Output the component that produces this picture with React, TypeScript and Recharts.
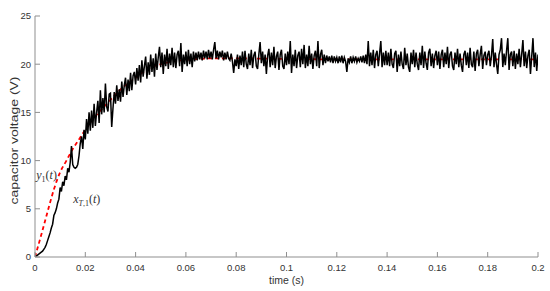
import React from "react";
import { LineChart, Line, XAxis, YAxis, ReferenceDot, Label } from "recharts";

// sample period of the measured (black) trace, seconds
const STEP = 0.0005;

// measured capacitor voltage x_T,1(t), one value every 0.5 ms from t = 0 to 0.2 s
const measuredV: number[] = [
  // 0.000 - 0.0095
  0, 0.1, 0.2, 0.3, 0.4, 0.5, 0.6, 0.8, 1.0, 1.3, 1.7, 2.1, 2.5, 3.0, 3.4, 4.3, 4.6, 5.0, 5.6, 6.0,
  // 0.010 - 0.0195
  7.2, 6.8, 7.8, 7.4, 8.4, 8.0, 9.2, 8.8, 9.8, 11.5, 9.6, 9.3, 9.2, 9.3, 9.6, 10.5, 11.8, 12.5, 11.2, 13.2,
  // 0.020 - 0.0295
  12.2, 14.3, 12.8, 15.0, 13.1, 15.2, 13.4, 15.9, 13.6, 15.0, 16.2, 13.9, 17.3, 14.8, 16.5, 15.0, 18.0, 15.6, 15.1, 16.9,
  // 0.030 - 0.0395
  17.0, 13.5, 15.4, 17.1, 15.9, 17.8, 16.2, 17.4, 16.1, 18.2, 16.6, 17.8, 18.6, 16.8, 18.4, 17.2, 19.1, 17.3, 18.8, 19.2,
  // 0.040 - 0.0495
  17.9, 19.6, 18.3, 19.9, 18.1, 20.4, 18.7, 19.8, 20.8, 18.5, 20.2, 18.9, 21.0, 19.2, 20.6, 18.7, 21.1, 19.4, 20.7, 21.8,
  // 0.050 - 0.0595
  19.7, 21.2, 19.0, 21.0, 19.8, 21.6, 19.5, 21.1, 19.9, 21.7, 19.7, 21.2, 19.6, 21.0, 21.4, 19.8, 22.2, 19.2, 21.0, 20.0,
  // 0.060 - 0.0695
  21.3, 19.8, 21.5, 20.0, 21.1, 19.7, 21.3, 20.3, 21.2, 20.4, 21.3, 20.5, 21.2, 20.4, 21.4, 20.6, 21.3, 20.5, 21.5, 20.6,
  // 0.070 - 0.0795
  21.3, 20.5, 21.5, 22.3, 20.6, 21.4, 20.5, 21.3, 20.7, 21.4, 20.4, 21.2, 20.5, 21.3, 20.6, 20.4, 21.1, 20.3, 19.1, 20.5,
  // 0.080 - 0.0895
  19.8, 21.0, 19.5, 20.9, 19.9, 21.3, 19.7, 21.4, 20.0, 19.5, 21.1, 19.9, 21.5, 19.6, 20.9, 21.3, 19.8, 19.5, 21.0, 22.3,
  // 0.090 - 0.0995
  20.1, 21.3, 19.8, 21.0, 19.0, 20.9, 21.6, 19.7, 21.2, 19.9, 21.8, 19.6, 20.8, 21.3, 19.4, 21.0, 21.5, 19.8, 19.5, 21.1,
  // 0.100 - 0.1095
  19.9, 21.3, 20.0, 22.4, 19.1, 21.0, 19.8, 21.5, 19.6, 20.9, 21.3, 19.7, 21.6, 20.0, 22.0, 19.6, 21.0, 19.8, 21.9, 20.0,
  // 0.110 - 0.1195
  21.1, 19.5, 20.9, 21.4, 19.8, 22.4, 19.6, 21.0, 21.5, 19.9, 21.0, 20.1, 20.9, 20.3, 20.8, 20.2, 20.9, 20.1, 20.8, 20.3,
  // 0.120 - 0.1295
  20.7, 20.1, 20.8, 20.2, 20.9, 20.1, 20.7, 20.3, 19.2, 20.6, 20.2, 20.8, 20.1, 20.7, 20.3, 20.8, 20.2, 20.6, 20.3, 20.8,
  // 0.130 - 0.1395
  20.2, 20.9, 20.1, 21.0, 20.0, 22.4, 19.8, 21.2, 19.9, 21.5, 19.6, 21.0, 21.4, 19.8, 21.1, 22.4, 19.7, 21.2, 19.9, 21.4,
  // 0.140 - 0.1495
  19.9, 21.2, 19.8, 21.6, 20.0, 19.6, 21.1, 21.4, 19.2, 21.0, 19.8, 21.3, 20.0, 19.5, 21.7, 19.9, 21.1, 19.7, 19.2, 21.2,
  // 0.150 - 0.1595
  20.0, 21.5, 19.7, 21.2, 20.0, 19.4, 21.2, 19.9, 21.9, 19.6, 21.3, 20.1, 19.4, 21.2, 21.6, 19.8, 21.1, 19.6, 20.9, 21.4,
  // 0.160 - 0.1695
  19.9, 21.3, 19.5, 21.0, 21.5, 19.7, 21.2, 20.0, 21.8, 19.6, 21.0, 21.3, 19.8, 19.4, 21.2, 20.0, 21.6, 19.7, 21.1, 19.9,
  // 0.170 - 0.1795
  19.2, 21.0, 21.4, 19.9, 21.2, 19.6, 21.7, 20.0, 19.7, 21.3, 19.3, 21.1, 21.5, 19.8, 21.0, 21.9, 19.5, 20.9, 21.3, 19.9,
  // 0.180 - 0.1895
  21.0, 21.4, 19.8, 20.9, 22.6, 19.7, 21.2, 20.0, 19.0, 21.0, 21.5, 22.7, 19.7, 21.1, 19.9, 21.4, 22.7, 19.4, 21.0, 21.3,
  // 0.190 - 0.1995, 0.200
  19.8, 21.4, 19.5, 21.1, 20.0, 21.6, 19.7, 21.0, 22.5, 19.8, 21.3, 19.6, 20.9, 21.5, 19.0, 20.8, 22.7, 19.7, 21.2, 19.3,
  21.0,
];

// reference trajectory y_1(t) (red dashed)
const refT: number[] = [
  0, 0.0025, 0.005, 0.0075, 0.01, 0.0125, 0.015, 0.0175, 0.02, 0.0225, 0.025, 0.0275, 0.03, 0.0325, 0.035,
  0.0375, 0.04, 0.0425, 0.045, 0.0475, 0.05, 0.055, 0.06, 0.065, 0.07, 0.08, 0.1, 0.12, 0.14, 0.16, 0.18, 0.2,
];
const refV: number[] = [
  0, 2.3, 4.7, 7.0, 8.8, 10.0, 11.2, 12.2, 13.2, 14.1, 14.9, 15.6, 16.3, 17.0, 17.6,
  18.1, 18.6, 19.1, 19.5, 19.8, 20.0, 20.3, 20.45, 20.55, 20.6, 20.6, 20.55, 20.5, 20.5, 20.5, 20.5, 20.5,
];

const xTicks: number[] = [0, 0.02, 0.04, 0.06, 0.08, 0.1, 0.12, 0.14, 0.16, 0.18, 0.2];
const yTicks: number[] = [0, 5, 10, 15, 20, 25];

const measuredData = measuredV.map((v, i) => ({ t: +(i * STEP).toFixed(4), v }));
const refData = refT.map((t, i) => ({ t, v: refV[i] }));

const AXIS_COLOR = "#8f8f8f";
const TEXT_COLOR = "#333333";
const SANS = "'Liberation Sans', Arial, sans-serif";
const SERIF = "'Liberation Serif', 'Times New Roman', serif";
const TICK_LEN = 5;
const X_MARGIN = 7;
const Y_MARGIN = 4;

// bottom axis: inward tick mark + label below
const BottomTick = (props: any) => {
  const { x, y, payload } = props;
  const axisY = y - X_MARGIN;
  return (
    <g>
      <line x1={x} x2={x} y1={axisY} y2={axisY - TICK_LEN} stroke={AXIS_COLOR} />
      <text x={x} y={y} dy="0.71em" textAnchor="middle" fontSize={9.5} fontFamily={SANS} fill={TEXT_COLOR}>
        {String(payload.value)}
      </text>
    </g>
  );
};

// left axis: inward tick mark + label at left
const LeftTick = (props: any) => {
  const { x, y, payload } = props;
  const axisX = x + Y_MARGIN;
  return (
    <g>
      <line x1={axisX} x2={axisX + TICK_LEN} y1={y} y2={y} stroke={AXIS_COLOR} />
      <text x={x} y={y} dy="0.355em" textAnchor="end" fontSize={9.5} fontFamily={SANS} fill={TEXT_COLOR}>
        {String(payload.value)}
      </text>
    </g>
  );
};

// top axis: inward tick mark only
const TopTick = (props: any) => (
  <line x1={props.x} x2={props.x} y1={props.y} y2={props.y + TICK_LEN} stroke={AXIS_COLOR} />
);

// right axis: inward tick mark only
const RightTick = (props: any) => (
  <line x1={props.x - TICK_LEN} x2={props.x} y1={props.y} y2={props.y} stroke={AXIS_COLOR} />
);

const YLabel = (props: any) => {
  const { x, y, height } = props.viewBox;
  const cx = x + 13.5;
  const cy = y + height / 2 + 4;
  return (
    <text
      x={cx}
      y={cy}
      transform={`rotate(-90, ${cx}, ${cy})`}
      textAnchor="middle"
      dominantBaseline="central"
      fontSize={10.5}
      textLength={128}
      lengthAdjust="spacingAndGlyphs"
      fontFamily={SANS}
      fill={TEXT_COLOR}
    >
      capacitor voltage (V)
    </text>
  );
};

const YLabelDot = (props: any) => (
  <text x={props.cx} y={props.cy} fontFamily={SERIF} fontSize={12} fill={TEXT_COLOR}>
    <tspan fontStyle="italic">y</tspan>
    <tspan fontSize={8} dy={3}>1</tspan>
    <tspan dy={-3}>(</tspan>
    <tspan fontStyle="italic">t</tspan>
    <tspan>)</tspan>
  </text>
);

const XLabelDot = (props: any) => (
  <text x={props.cx} y={props.cy} fontFamily={SERIF} fontSize={12} fill={TEXT_COLOR}>
    <tspan fontStyle="italic">x</tspan>
    <tspan fontSize={8} dy={3} fontStyle="italic">T</tspan>
    <tspan fontSize={8}>,1</tspan>
    <tspan dy={-3}>(</tspan>
    <tspan fontStyle="italic">t</tspan>
    <tspan>)</tspan>
  </text>
);

export default function App() {
  return (
    <div style={{ position: "absolute", left: 0, top: 0, width: 550, height: 291, background: "#fff" }}>
      <LineChart
        width={550}
        height={291}
        data={measuredData}
        margin={{ top: 16, right: 12, bottom: 0, left: 0 }}
      >
        <XAxis
          dataKey="t"
          type="number"
          domain={[0, 0.2]}
          ticks={xTicks}
          interval={0}
          height={34}
          tickSize={0}
          tickMargin={X_MARGIN}
          tickLine={false}
          stroke={AXIS_COLOR}
          tick={<BottomTick />}
          allowDataOverflow
        >
          <Label
            value="time (s)"
            position="insideBottom"
            offset={7}
            style={{ fontSize: 10.5, fill: TEXT_COLOR, fontFamily: SANS }}
          />
        </XAxis>
        <XAxis
          xAxisId="top"
          orientation="top"
          dataKey="t"
          type="number"
          domain={[0, 0.2]}
          ticks={xTicks}
          interval={0}
          height={0}
          tickSize={0}
          tickMargin={0}
          tickLine={false}
          tick={<TopTick />}
          stroke={AXIS_COLOR}
          allowDataOverflow
        />
        <YAxis
          type="number"
          domain={[0, 25]}
          ticks={yTicks}
          interval={0}
          width={35}
          tickSize={0}
          tickMargin={Y_MARGIN}
          tickLine={false}
          stroke={AXIS_COLOR}
          tick={<LeftTick />}
          allowDataOverflow
          label={<YLabel />}
        />
        <YAxis
          yAxisId="right"
          orientation="right"
          type="number"
          domain={[0, 25]}
          ticks={yTicks}
          interval={0}
          width={0}
          tickSize={0}
          tickMargin={0}
          tickLine={false}
          tick={<RightTick />}
          stroke={AXIS_COLOR}
          allowDataOverflow
        />
        <Line
          data={refData}
          dataKey="v"
          type="monotone"
          stroke="#ff0000"
          strokeWidth={1.8}
          strokeDasharray="4 3"
          dot={false}
          isAnimationActive={false}
        />
        <Line
          dataKey="v"
          type="linear"
          stroke="#000000"
          strokeWidth={1.5}
          dot={false}
          isAnimationActive={false}
        />
        <ReferenceDot x={0.0005} y={8.1} r={0} shape={<YLabelDot />} />
        <ReferenceDot x={0.0152} y={5.6} r={0} shape={<XLabelDot />} />
      </LineChart>
    </div>
  );
}
